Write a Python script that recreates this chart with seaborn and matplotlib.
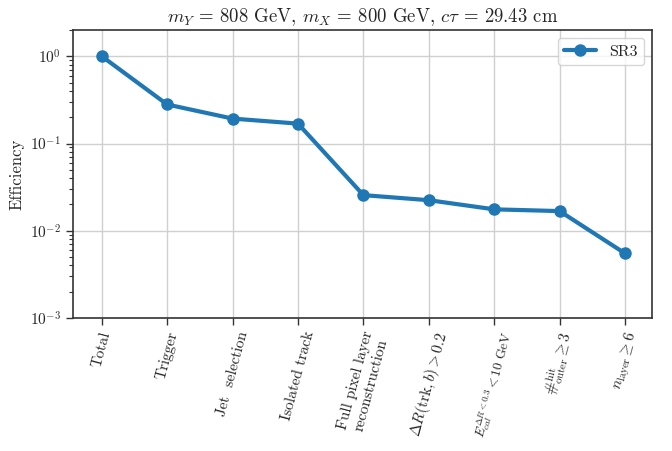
import numpy as np
import pandas as pd
import matplotlib
matplotlib.use("Agg")
import matplotlib.pyplot as plt
import seaborn as sns

# cut flow categories and efficiencies
cuts = [
    "Total",
    "Trigger",
    "Jet  selection",
    "Isolated track",
    "Full pixel layer\nreconstruction",
    r"$\Delta R(\mathrm{trk}, b) > 0.2$",
    r"$E_{cal}^{\Delta R<0.3} < 10$ GeV",
    r"$\#^{\mathrm{hit}}_{\mathrm{outer}} \geq 3$",
    r"$n_{\mathrm{layer}} \geq 6$",
]
efficiency = [1.0, 0.28, 0.193, 0.169, 0.0256, 0.0224, 0.0176, 0.0168, 0.0055]
series_name = "SR3"
title = r"$m_Y$ = 808 GeV, $m_X$ = 800 GeV, $c\tau$ = 29.43 cm"

sns.set_style("whitegrid")
plt.rcParams["font.family"] = "serif"
plt.rcParams["font.serif"] = ["cmr10"]
plt.rcParams["mathtext.fontset"] = "cm"
plt.rcParams["axes.formatter.use_mathtext"] = True
plt.rcParams["axes.unicode_minus"] = False

df = pd.DataFrame({"step": np.arange(len(cuts)), "eff": efficiency})

fig = plt.figure(figsize=(6.72, 4.51), dpi=100)
ax = fig.add_axes([0.1086, 0.2949, 0.8614, 0.6386])

sns.lineplot(data=df, x="step", y="eff", marker="o", markersize=9,
             markeredgewidth=0, linewidth=3, color="#1f77b4",
             label=series_name, sort=False, ax=ax)

ax.set_yscale("log")
ax.set_ylim(1e-3, 2)
ax.set_xlim(-0.44, 8.41)
ax.set_xticks(df["step"])
ax.set_xticklabels(cuts, rotation=75, ha="center", fontsize=11)
ax.set_xlabel("")
ax.set_ylabel("Efficiency", fontsize=12)
ax.set_title(title, fontsize=13.5)

ax.grid(True, which="major", color="#d0d0d0", linewidth=1)
ax.grid(False, which="minor")
for s in ax.spines.values():
    s.set_color("#333333")
    s.set_linewidth(1.2)
ax.tick_params(axis="both", which="major", direction="out", length=5,
               width=1, color="#333333", bottom=True, left=True, labelsize=11)
ax.tick_params(axis="y", which="minor", direction="out", length=3,
               width=0.8, color="#333333", left=True)

# the calorimeter label is the longest, keep it inside the figure
ax.get_xticklabels()[6].set_fontsize(9.5)

ax.legend(loc="upper right", fontsize=11.5, frameon=True)

fig.savefig("out.png", dpi=100)
